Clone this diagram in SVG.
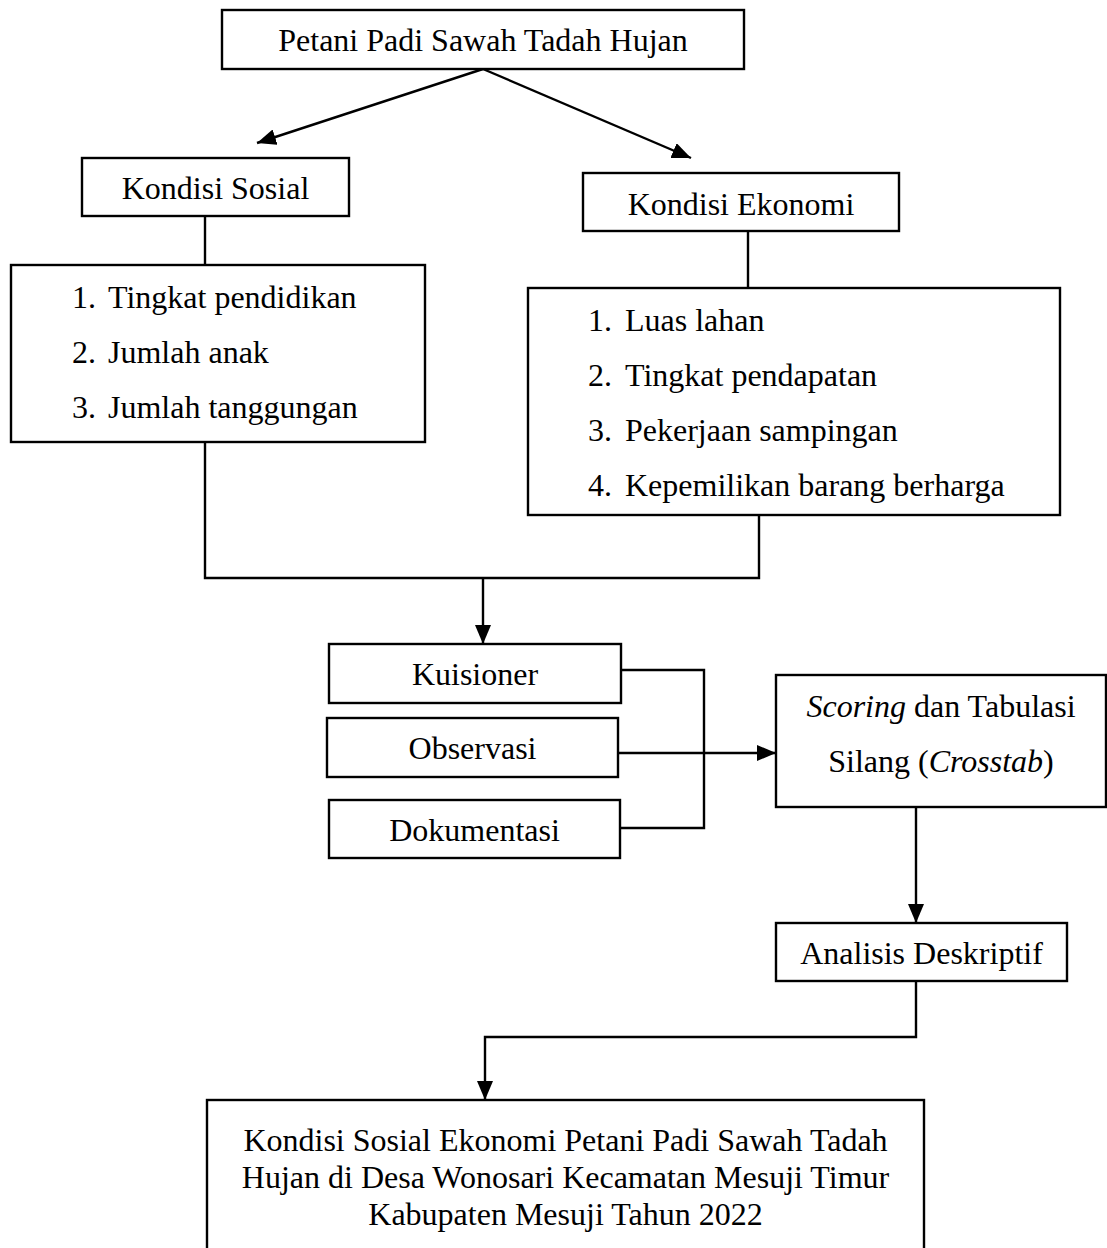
<svg xmlns="http://www.w3.org/2000/svg" width="1107" height="1248" viewBox="0 0 1107 1248">
<style>
.box{fill:#fff;stroke:#000;stroke-width:2.4}
.t{font-family:"Liberation Serif","Times New Roman",serif;font-size:32px;fill:#000}
.c{text-anchor:middle}
.ln{fill:none;stroke:#000;stroke-width:2.4}
</style>
<defs>
<marker id="ah" markerUnits="userSpaceOnUse" markerWidth="20" markerHeight="16" refX="19" refY="8" orient="auto">
<path d="M0,0 L19,8 L0,16 Z" fill="#000"/>
</marker>
</defs>
<rect width="1107" height="1248" fill="#fff"/>
<g id="connectors">
<line class="ln" x1="483" y1="69" x2="257" y2="143" marker-end="url(#ah)"/>
<line class="ln" x1="483" y1="69" x2="691" y2="158" marker-end="url(#ah)"/>
<line class="ln" x1="205" y1="216" x2="205" y2="265"/>
<line class="ln" x1="748" y1="231" x2="748" y2="288"/>
<polyline class="ln" points="205,442 205,578 759,578 759,515"/>
<line class="ln" x1="483" y1="578" x2="483" y2="644" marker-end="url(#ah)"/>
<polyline class="ln" points="621,670 704,670 704,828 620,828"/>
<line class="ln" x1="618" y1="753" x2="776" y2="753" marker-end="url(#ah)"/>
<line class="ln" x1="916" y1="807" x2="916" y2="923" marker-end="url(#ah)"/>
<polyline class="ln" points="916,981 916,1037 485,1037 485,1100" marker-end="url(#ah)"/>
</g>
<g id="petani">
<rect class="box" x="222" y="10" width="522" height="59"/>
<text class="t c" x="483" y="51">Petani Padi Sawah Tadah Hujan</text>
</g>
<g id="kondisi-sosial">
<rect class="box" x="82" y="158" width="267" height="58"/>
<text class="t c" x="215.5" y="199">Kondisi Sosial</text>
</g>
<g id="kondisi-ekonomi">
<rect class="box" x="583" y="173" width="316" height="58"/>
<text class="t c" x="741" y="215">Kondisi Ekonomi</text>
</g>
<g id="list-sosial">
<rect class="box" x="11" y="265" width="414" height="177"/>
<text class="t" x="72" y="308">1.</text><text class="t" x="108" y="308">Tingkat pendidikan</text>
<text class="t" x="72" y="363">2.</text><text class="t" x="108" y="363">Jumlah anak</text>
<text class="t" x="72" y="418">3.</text><text class="t" x="108" y="418">Jumlah tanggungan</text>
</g>
<g id="list-ekonomi">
<rect class="box" x="528" y="288" width="532" height="227"/>
<text class="t" x="588" y="331">1.</text><text class="t" x="625" y="331">Luas lahan</text>
<text class="t" x="588" y="386">2.</text><text class="t" x="625" y="386">Tingkat pendapatan</text>
<text class="t" x="588" y="441">3.</text><text class="t" x="625" y="441">Pekerjaan sampingan</text>
<text class="t" x="588" y="496">4.</text><text class="t" x="625" y="496">Kepemilikan barang berharga</text>
</g>
<g id="kuisioner">
<rect class="box" x="329" y="644" width="292" height="59"/>
<text class="t c" x="475" y="685">Kuisioner</text>
</g>
<g id="observasi">
<rect class="box" x="327" y="718" width="291" height="59"/>
<text class="t c" x="472.5" y="759">Observasi</text>
</g>
<g id="dokumentasi">
<rect class="box" x="329" y="800" width="291" height="58"/>
<text class="t c" x="474.5" y="841">Dokumentasi</text>
</g>
<g id="scoring">
<rect class="box" x="776" y="675" width="330" height="132"/>
<text class="t c" x="941" y="717"><tspan font-style="italic">Scoring</tspan> dan Tabulasi</text>
<text class="t c" x="941" y="772">Silang (<tspan font-style="italic">Crosstab</tspan>)</text>
</g>
<g id="analisis">
<rect class="box" x="776" y="923" width="291" height="58"/>
<text class="t c" x="921.5" y="964">Analisis Deskriptif</text>
</g>
<g id="kesimpulan">
<rect class="box" x="207" y="1100" width="717" height="170"/>
<text class="t c" x="565.5" y="1151">Kondisi Sosial Ekonomi Petani Padi Sawah Tadah</text>
<text class="t c" x="565.5" y="1188">Hujan di Desa Wonosari Kecamatan Mesuji Timur</text>
<text class="t c" x="565.5" y="1225">Kabupaten Mesuji Tahun 2022</text>
</g>
</svg>
